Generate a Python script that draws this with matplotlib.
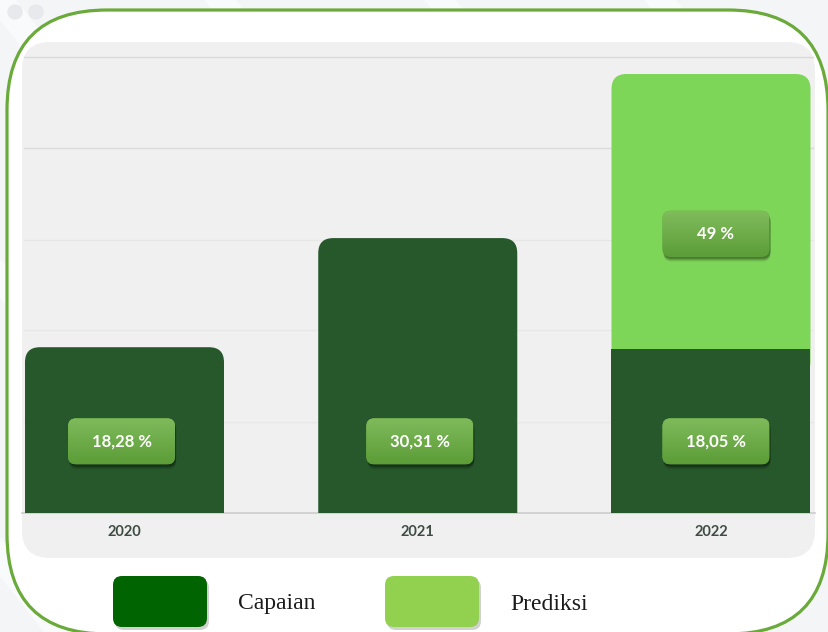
import numpy as np
import matplotlib
matplotlib.use("Agg")
import matplotlib.pyplot as plt
from matplotlib.patches import FancyBboxPatch, Circle

# data
years = ["2020", "2021", "2022"]
capaian = [18.28, 30.31, 18.05]
prediksi = [0, 0, 49]
# the graphic squeezes the prediction segment: it is drawn ~30.35 units tall
prediksi_drawn = [0, 0, 30.35]
capaian_labels = ["18,28 %", "30,31 %", "18,05 %"]
prediksi_labels = ["", "", "49 %"]
legend_names = ["Capaian", "Prediksi"]

W, H = 829, 632
PX_X = 293.25   # pixels per category step
PX_Y = 9.07     # pixels per percent unit
ASPECT = PX_X / PX_Y

DARK = "#26582b"
LIGHT = "#7ed658"
label_dx = [-0.01, 0.007, 0.017]


def rounded(ax, x, y, w, h, r_px, **kw):
    p = FancyBboxPatch((x, y), w, h,
                       boxstyle=f"round,pad=0,rounding_size={r_px / PX_X}",
                       mutation_aspect=ASPECT, **kw)
    ax.add_patch(p)
    return p


def label_box(ax, xc, yc, text):
    bw, bh = 107 / PX_X, 46 / PX_Y
    x0, y0 = xc - bw / 2, yc - bh / 2
    # soft shadow
    for off, a in [(5, 0.07), (4, 0.10), (3, 0.14), (2, 0.18)]:
        rounded(ax, x0 + 1 / PX_X, y0 - off / PX_Y, bw, bh, 8,
                facecolor="black", edgecolor="none", alpha=a, zorder=5)
    box = rounded(ax, x0, y0, bw, bh, 8, facecolor="#6aab45",
                  edgecolor="none", zorder=6)
    grad = np.linspace(0, 1, 64).reshape(-1, 1)
    cmap = matplotlib.colors.LinearSegmentedColormap.from_list(
        "g", ["#5c9d38", "#80bb5c"])
    im = ax.imshow(grad, extent=[x0, x0 + bw, y0, y0 + bh], origin="lower",
                   cmap=cmap, aspect="auto", zorder=6.5)
    im.set_clip_path(box)
    ax.text(xc, yc, text, ha="center", va="center", color="white",
            fontsize=12, fontweight="bold", family="Lato", zorder=7)


fig = plt.figure(figsize=(W / 100, H / 100), dpi=100)
fig.patch.set_facecolor("#f4f5f7")

# background / frame layer in pixel coordinates
bg = fig.add_axes([0, 0, 1, 1], zorder=0)
bg.set_xlim(0, W)
bg.set_ylim(H, 0)
bg.axis("off")
for k in range(-2, 6):
    bg.plot([k * 220, k * 220 + 500], [0, H], color="white", lw=18, alpha=0.5,
            zorder=0)
bg.add_patch(Circle((15, 12), 7, color="#e8e9ec", zorder=1))
bg.add_patch(Circle((36, 12), 7, color="#e8e9ec", zorder=1))
bg.add_patch(FancyBboxPatch((7, 10), 821, 624,
                            boxstyle="round,pad=0,rounding_size=100",
                            facecolor="white", edgecolor="#6aaa3a",
                            linewidth=2.3, zorder=2))
bg.add_patch(FancyBboxPatch((22, 42), 793, 516,
                            boxstyle="round,pad=0,rounding_size=28",
                            facecolor="#f0f0f0", edgecolor="none", zorder=3))
for yy, c in [(57, "#d9d9d9"), (148, "#dadada"), (240, "#e7e7e7"),
              (330, "#e8e8e8"), (422, "#e9e9e9")]:
    bg.plot([24, 813], [yy, yy], color=c, lw=1, zorder=3.5)

# legend
leg_x = [113, 385]
leg_colors = ["#006400", "#92d050"]
for lx, col, name in zip(leg_x, leg_colors, legend_names):
    bg.add_patch(FancyBboxPatch((lx + 2, 579), 94, 51,
                                boxstyle="round,pad=0,rounding_size=9",
                                facecolor="black", alpha=0.18,
                                edgecolor="none", zorder=4))
    bg.add_patch(FancyBboxPatch((lx, 576), 94, 51,
                                boxstyle="round,pad=0,rounding_size=9",
                                facecolor=col, edgecolor="none", zorder=5))
    bg.text(lx + 125, 604, name, ha="left", va="center", fontsize=17,
            family="Liberation Serif", color="#1a1a1a", zorder=5)

# chart layer
ax = fig.add_axes([22 / W, (H - 513) / H, 793 / W, 471 / H], zorder=1)
ax.patch.set_alpha(0)
x = np.arange(len(years))
bw = 199 / PX_X
r = 15

dark_bars = ax.bar(x, capaian, width=bw, color=DARK, zorder=3)
light_bars = ax.bar(x, prediksi_drawn, width=bw, bottom=capaian,
                    color=LIGHT, zorder=2)

for rect, p in zip(dark_bars, prediksi_drawn):
    if p == 0:
        rect.set_visible(False)
        rounded(ax, rect.get_x(), rect.get_y() - 3, rect.get_width(),
                rect.get_height() + 3, r, facecolor=DARK, edgecolor="none",
                zorder=3)
for rect in light_bars:
    rect.set_visible(False)
    if rect.get_height() > 0:
        rounded(ax, rect.get_x(), rect.get_y() - 3, rect.get_width(),
                rect.get_height() + 3, r, facecolor=LIGHT, edgecolor="none",
                zorder=2)

for i in x:
    label_box(ax, i + label_dx[i], 7.9, capaian_labels[i])
    if prediksi_drawn[i] > 0:
        label_box(ax, i + label_dx[i], capaian[i] + prediksi_drawn[i] * 0.42,
                  prediksi_labels[i])

ax.set_xlim((22 - 124.5) / PX_X, (815 - 124.5) / PX_X)
ax.set_ylim(0, 471 / PX_Y)
ax.set_xticks(x, years)
ax.tick_params(axis="x", length=0, pad=9, labelsize=10.5,
               labelcolor="#3e4d44")
for t in ax.get_xticklabels():
    t.set_fontweight("bold")
    t.set_family("Lato")
ax.set_yticks([])
for s in ["top", "left", "right"]:
    ax.spines[s].set_visible(False)
ax.spines["bottom"].set_color("#cccccc")
ax.spines["bottom"].set_linewidth(1.2)

fig.savefig("out.png", dpi=100, facecolor=fig.get_facecolor())
